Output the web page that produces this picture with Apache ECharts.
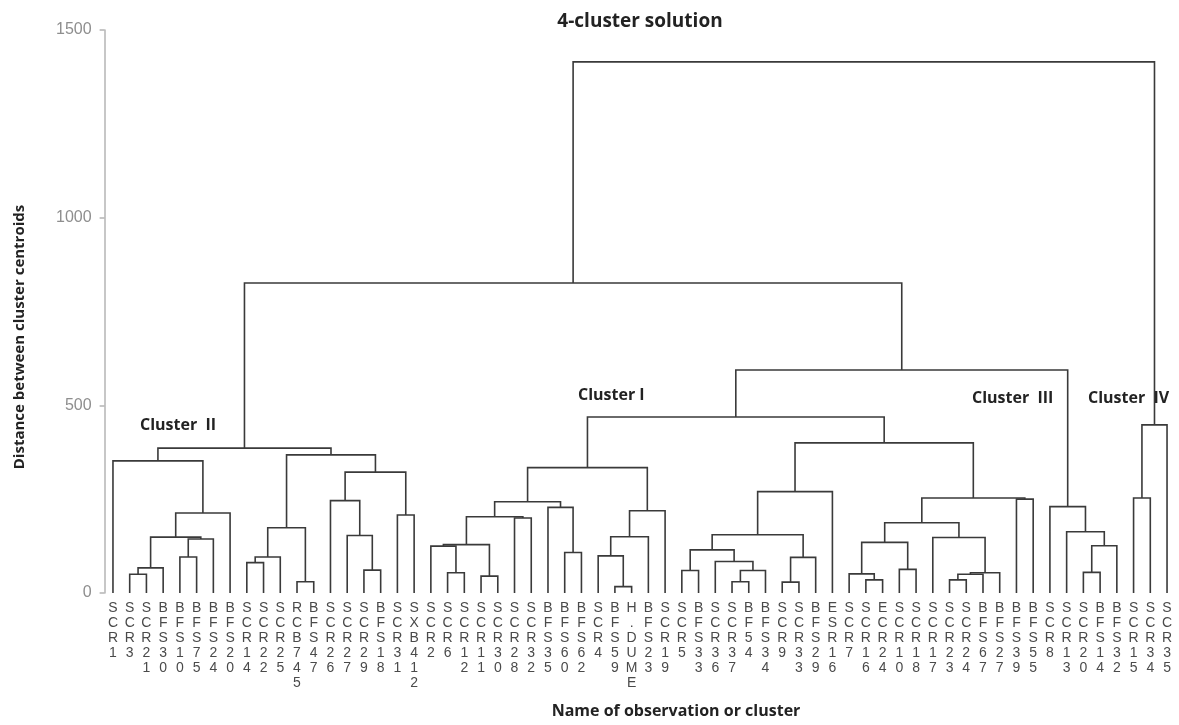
<!DOCTYPE html>
<html>
<head>
<meta charset="utf-8">
<title>4-cluster solution</title>
<script src="https://cdn.jsdelivr.net/npm/echarts@6/dist/echarts.min.js"></script>
<style>
  html, body { margin: 0; padding: 0; background: #ffffff; }
  #chart { width: 1179px; height: 725px; }
</style>
</head>
<body>
<div id="chart"></div>
<script>
// Observations in dendrogram leaf order (left to right)
const leaves = [
  'SCR1', 'SCR3', 'SCR21', 'BFS30', 'BFS10', 'BFS75', 'BFS24', 'BFS20',
  'SCR14', 'SCR22', 'SCR25', 'RCB745', 'BFS47', 'SCR26', 'SCR27', 'SCR29',
  'BFS18', 'SCR31', 'SXB412', 'SCR2', 'SCR6', 'SCR12', 'SCR11', 'SCR30',
  'SCR28', 'SCR32', 'BFS35', 'BFS60', 'BFS62', 'SCR4', 'BFS59', 'H.DUME',
  'BFS23', 'SCR19', 'SCR5', 'BFS33', 'SCR36', 'SCR37', 'BF54', 'BFS34',
  'SCR9', 'SCR33', 'BFS29', 'ESR16', 'SCR7', 'SCR16', 'ECR24', 'SCR10',
  'SCR18', 'SCR17', 'SCR23', 'SCR24', 'BFS67', 'BFS27', 'BFS39', 'BFS55',
  'SCR8', 'SCR13', 'SCR20', 'BFS14', 'BFS32', 'SCR15', 'SCR34', 'SCR35'
];

// Linkage: [node A, node B, distance]. Ids 0-63 are observations,
// id 64 + k is the cluster formed by merge k.
const merges = [
  // Cluster II
  [1, 2, 50], [64, 3, 67], [4, 5, 96], [66, 6, 144], [65, 67, 149],
  [68, 7, 213], [0, 69, 352], [8, 9, 81], [71, 10, 96], [11, 12, 30],
  [72, 73, 174], [15, 16, 61], [14, 75, 153], [13, 76, 246], [17, 18, 208],
  [77, 78, 322], [74, 79, 368], [70, 80, 386],
  // Cluster I
  [20, 21, 54], [22, 23, 45], [19, 82, 125], [84, 83, 129], [24, 25, 200],
  [85, 86, 203], [27, 28, 108], [26, 88, 228], [87, 89, 243], [30, 31, 17],
  [29, 91, 99], [92, 32, 150], [93, 33, 219], [90, 94, 334],
  [34, 35, 60], [37, 38, 30], [97, 39, 60], [36, 98, 84], [96, 99, 115],
  [40, 41, 29], [101, 42, 95], [100, 102, 155], [103, 43, 270],
  [45, 46, 35], [44, 105, 51], [47, 48, 63], [106, 107, 135],
  [50, 51, 35], [109, 52, 50], [110, 53, 54], [49, 111, 148],
  [108, 112, 187], [54, 55, 250], [113, 114, 253], [104, 115, 400],
  [95, 116, 469],
  // Cluster III
  [58, 59, 55], [118, 60, 126], [57, 119, 163], [56, 120, 230],
  [117, 121, 594], [81, 122, 826],
  // Cluster IV
  [61, 62, 253], [124, 63, 448],
  // root
  [123, 125, 1415]
];

const yTicks = [0, 500, 1000, 1500];

// Node positions: leaves sit at their index, each merge at the midpoint of its children.
const nodeX = leaves.map((_, i) => i);
const nodeH = leaves.map(() => 0);
const links = merges.map(([a, b, h]) => {
  const row = [nodeX[a], nodeX[b], nodeH[a], nodeH[b], h];
  nodeX.push((nodeX[a] + nodeX[b]) / 2);
  nodeH.push(h);
  return row;
});

const LINE = '#3a3a3a';
const SANS = '"Open Sans", "Noto Sans", sans-serif';
const LABEL_FONT = '"Liberation Sans", Arial, sans-serif';

const chart = echarts.init(document.getElementById('chart'), null, { renderer: 'canvas' });

chart.setOption({
  backgroundColor: '#ffffff',
  animation: false,
  grid: { left: 104.6, right: 3.6, top: 30, bottom: 132, containLabel: false },
  xAxis: [
    {
      type: 'category',
      data: leaves,
      boundaryGap: true,
      axisLine: { show: false },
      axisTick: { show: false },
      splitLine: { show: false },
      axisLabel: {
        interval: 0,
        margin: 8,
        fontFamily: LABEL_FONT,
        fontSize: 14,
        lineHeight: 15,
        color: '#4a4a4a',
        align: 'center',
        formatter: v => v.split('').join('\n')
      }
    },
    { type: 'value', min: -0.5, max: leaves.length - 0.5, show: false }
  ],
  yAxis: {
    type: 'value',
    min: yTicks[0],
    max: yTicks[yTicks.length - 1],
    interval: yTicks[1] - yTicks[0],
    axisLine: { show: true, onZero: false, lineStyle: { color: '#b4b4b4', width: 1.5 } },
    axisTick: { show: true, length: 5, lineStyle: { color: '#b4b4b4', width: 1.5 } },
    splitLine: { show: false },
    axisLabel: {
      margin: 13,
      fontFamily: LABEL_FONT,
      fontSize: 16,
      color: '#8e8e8e',
      formatter: v => String(v)
    }
  },
  series: [{
    type: 'custom',
    coordinateSystem: 'cartesian2d',
    xAxisIndex: 1,
    yAxisIndex: 0,
    encode: { x: [0, 1], y: [2, 3, 4] },
    data: links,
    silent: true,
    renderItem: (params, api) => {
      const xl = api.value(0), xr = api.value(1);
      const hl = api.value(2), hr = api.value(3), h = api.value(4);
      return {
        type: 'polyline',
        shape: {
          points: [
            api.coord([xl, hl]), api.coord([xl, h]),
            api.coord([xr, h]), api.coord([xr, hr])
          ]
        },
        style: { stroke: LINE, lineWidth: 1.6, fill: null }
      };
    }
  }],
  graphic: [
    {
      type: 'text', x: 640, y: 22,
      style: { text: '4-cluster solution', font: 'bold 19px ' + SANS, fill: '#222', align: 'center', verticalAlign: 'middle' }
    },
    {
      type: 'text', x: 20, y: 337, rotation: Math.PI / 2,
      style: { text: 'Distance between cluster centroids', font: 'bold 15px ' + SANS, fill: '#222', align: 'center', verticalAlign: 'middle' }
    },
    {
      type: 'text', x: 676, y: 711,
      style: { text: 'Name of observation or cluster', font: 'bold 16px ' + SANS, fill: '#222', align: 'center', verticalAlign: 'middle' }
    },
    {
      type: 'text', x: 140, y: 425,
      style: { text: 'Cluster  II', font: 'bold 16px ' + SANS, fill: '#222', align: 'left', verticalAlign: 'middle' }
    },
    {
      type: 'text', x: 578, y: 395,
      style: { text: 'Cluster I', font: 'bold 16px ' + SANS, fill: '#222', align: 'left', verticalAlign: 'middle' }
    },
    {
      type: 'text', x: 972, y: 398,
      style: { text: 'Cluster  III', font: 'bold 16px ' + SANS, fill: '#222', align: 'left', verticalAlign: 'middle' }
    },
    {
      type: 'text', x: 1088, y: 398,
      style: { text: 'Cluster  IV', font: 'bold 16px ' + SANS, fill: '#222', align: 'left', verticalAlign: 'middle' }
    }
  ]
});
</script>
</body>
</html>
